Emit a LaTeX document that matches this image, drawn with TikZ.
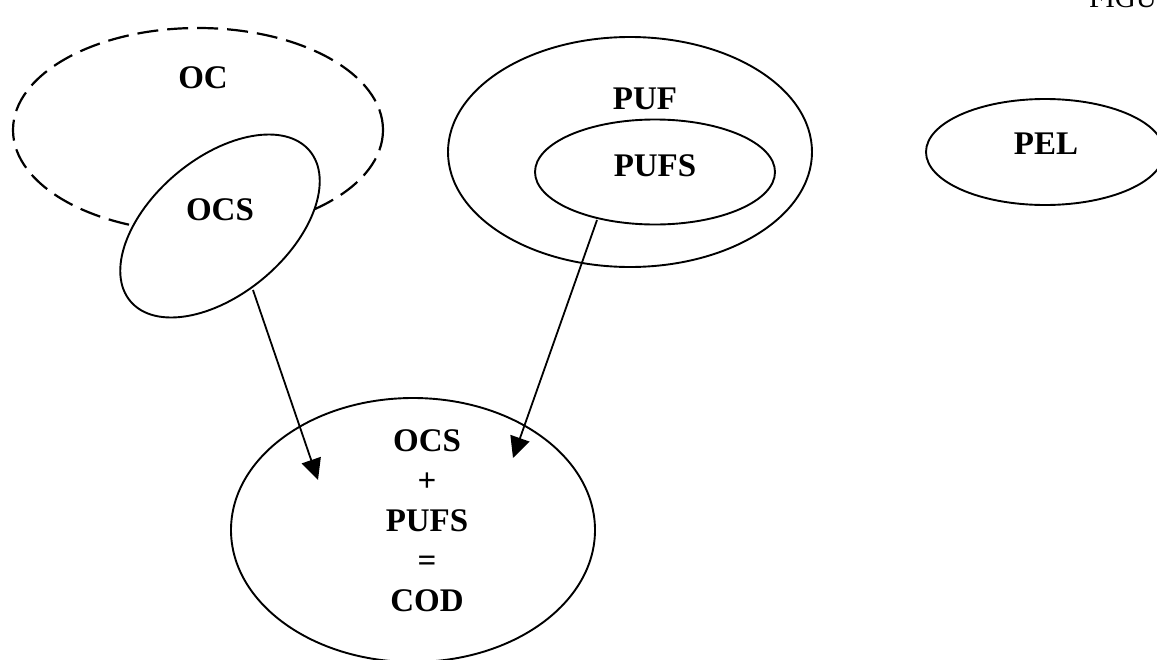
\documentclass[tikz,border=0pt]{standalone}
\usepackage{fontspec}
\setmainfont{Liberation Serif}
\usetikzlibrary{shapes.geometric,arrows.meta}
\begin{document}
\begin{tikzpicture}[x=1pt,y=-1pt,
  oval/.style={ellipse,draw,line width=1.9pt,inner sep=0pt},
  lbl/.style={font=\fontsize{33}{40}\selectfont\bfseries,inner sep=0pt},
  arr/.style={line width=1.8pt,-{Triangle[length=21pt,width=20pt]}}]
\useasboundingbox (0,0) rectangle (1157,659);
\begin{scope}
\clip (0,0) rectangle (1157,659);
% OC dashed
\node[oval,line width=2.2pt,dash pattern=on 21pt off 9pt,minimum width=370pt,minimum height=204pt] (oc) at (198,130) {};
\node[lbl] (ocl) at (203,78) {OC};
% OCS rotated
\node[oval,fill=white,minimum width=234pt,minimum height=136pt,rotate=40] (ocs) at (220,226) {};
\node[lbl] (ocsl) at (220,210) {OCS};
% PUF
\node[oval,minimum width=364pt,minimum height=230pt] (puf) at (630,152) {};
\node[lbl] (pufl) at (645,99) {PUF};
\node[oval,minimum width=240pt,minimum height=105pt] (pufs) at (655,172) {};
\node[lbl] (pufsl) at (655,166) {PUFS};
% PEL
\node[oval,minimum width=238pt,minimum height=106pt] (pel) at (1045,152) {};
\node[lbl] (pell) at (1046,144) {PEL};
% COD
\node[oval,minimum width=364pt,minimum height=264pt] (cod) at (413,530) {};
\node[lbl,align=center] (codl) at (427,521) {OCS\\+\\PUFS\\=\\COD};
% FIGURE (cut off at the top right edge, as in the reference)
\node[font=\fontsize{29}{34}\selectfont,inner sep=0pt,anchor=base west] (fig) at (1089,7) {FIGURE};
% arrows
\coordinate (a1s) at (253,290);
\coordinate (a1e) at (318,480);
\coordinate (a2s) at (597,220);
\coordinate (a2e) at (513,458);
\draw[arr] (a1s) -- (a1e);
\draw[arr] (a2s) -- (a2e);
\end{scope}
\end{tikzpicture}
\end{document}
